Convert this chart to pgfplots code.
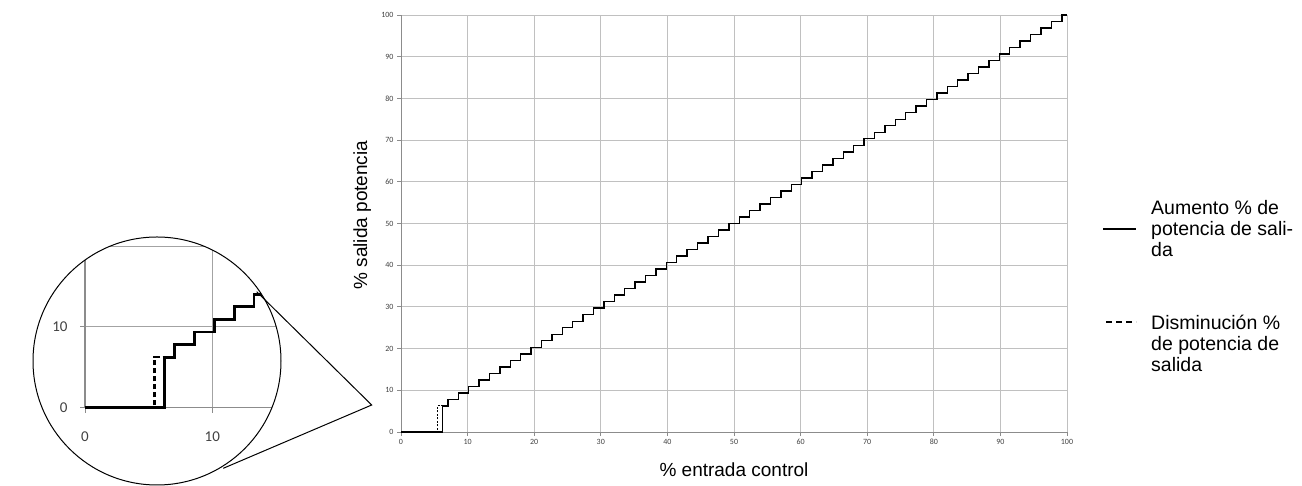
\documentclass[border=0pt]{standalone}
\usepackage{fontspec}
\setmainfont{Liberation Sans}
\newfontfamily\calfont{Carlito}
\usepackage{pgfplots}
\usepackage{pgfplotstable}
\pgfplotsset{compat=1.18}

\definecolor{gridgray}{HTML}{C0C0C0}
\definecolor{axgray}{HTML}{8C8C8C}
\definecolor{ticktext}{HTML}{404040}

% output rises in steps of 100/64 (increase)
\pgfplotstableread{
x y
0 0
6.25 6.25
7.03 7.81
8.59 9.38
10.16 10.94
11.72 12.50
13.28 14.06
14.84 15.63
16.41 17.19
17.97 18.75
19.53 20.31
21.09 21.88
22.66 23.44
24.22 25.00
25.78 26.56
27.34 28.13
28.91 29.69
30.47 31.25
32.03 32.81
33.59 34.38
35.16 35.94
36.72 37.50
38.28 39.06
39.84 40.63
41.41 42.19
42.97 43.75
44.53 45.31
46.09 46.88
47.66 48.44
49.22 50.00
50.78 51.56
52.34 53.13
53.91 54.69
55.47 56.25
57.03 57.81
58.59 59.38
60.16 60.94
61.72 62.50
63.28 64.06
64.84 65.63
66.41 67.19
67.97 68.75
69.53 70.31
71.09 71.88
72.66 73.44
74.22 75.00
75.78 76.56
77.34 78.13
78.91 79.69
80.47 81.25
82.03 82.81
83.59 84.38
85.16 85.94
86.72 87.50
88.28 89.06
89.84 90.63
91.41 92.19
92.97 93.75
94.53 95.31
96.09 96.88
97.66 98.44
99.22 100.00
100 100
}\aumento

% decrease: switches off earlier
\pgfplotstableread{
x y
0 0
5.47 6.25
6.25 6.25
}\disminucion

\begin{document}
\begin{tikzpicture}
\path[use as bounding box] (0pt,0pt) rectangle (1302pt,486pt);

% main chart
\begin{axis}[
  at={(401pt,54pt)}, anchor=south west,
  scale only axis, width=666pt, height=417pt,
  xmin=0, xmax=100, ymin=0, ymax=100,
  xtick distance=10, ytick distance=10,
  grid=major, grid style={draw=gridgray, line width=0.8pt},
  axis lines=left, axis line style={-, draw=axgray, line width=0.9pt},
  tick style={draw=axgray, line width=0.8pt}, tick align=outside,
  major tick length=4pt,
  /pgf/number format/assume math mode=true,
  tick label style={font=\calfont\fontsize{8}{9}\selectfont, text=ticktext},
  xlabel={\% entrada control},
  ylabel={\% salida potencia},
  label style={font=\fontsize{19}{21}\selectfont},
  xlabel style={at={(axis description cs:0.5,-0.107)}, anchor=base},
  ylabel style={at={(axis description cs:-0.051,0.52)}, anchor=base},
  clip=false,
]
\addplot[const plot, black, line width=1.4pt] table {\aumento};
\addplot[const plot, black, line width=1.1pt, dash pattern=on 2pt off 1.5pt] table {\disminucion};
\end{axis}

% magnified inset
\begin{scope}
\clip (157pt,125pt) circle (124pt);
\begin{axis}[
  at={(85pt,78.3pt)}, anchor=south west,
  scale only axis, width=254.6pt, height=161.4pt,
  xmin=0, xmax=20, ymin=0, ymax=20,
  xtick={0,10,20}, ytick={0,10,20},
  grid=major, grid style={draw=axgray!80, line width=1pt},
  axis lines=left, axis line style={-, draw=axgray, line width=1.2pt},
  tick style={draw=axgray, line width=1pt}, tick align=outside,
  major tick length=5pt,
  /pgf/number format/assume math mode=true,
  tick label style={font=\calfont\fontsize{15}{17}\selectfont, text=ticktext},
  xticklabel style={yshift=-16pt},
  yticklabel style={xshift=-9pt},
  clip=false,
]
\addplot[const plot, black, line width=2.8pt] table {\aumento};
\addplot[const plot, black, line width=2.4pt, dash pattern=on 5pt off 3pt] table {\disminucion};
\end{axis}
\end{scope}
\draw[line width=1pt] (157pt,125pt) circle (124pt);
\draw[line width=1pt] (256.7pt,194.3pt) -- (371.7pt,81pt) -- (223.3pt,17.7pt);

% legend
\draw[black, line width=2.4pt] (1103pt,257pt) -- (1136pt,257pt);
\node[anchor=west, align=left, inner sep=0pt, font=\fontsize{19.5}{21}\selectfont]
  at (1151pt,257pt) {Aumento \% de\\potencia de sali-\\da};
\draw[black, line width=2.4pt, dash pattern=on 6pt off 4pt] (1106pt,164pt) -- (1136pt,164pt);
\node[anchor=west, align=left, inner sep=0pt, font=\fontsize{19.5}{21}\selectfont]
  at (1151pt,143pt) {Disminución \%\\de potencia de\\salida};
\end{tikzpicture}
\end{document}
